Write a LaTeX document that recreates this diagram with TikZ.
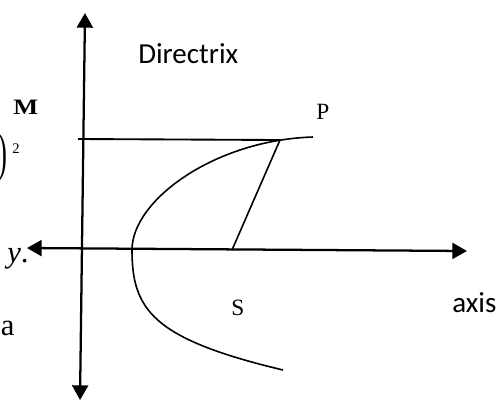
\documentclass[tikz,border=0pt]{standalone}
\usepackage{fontspec}
\usepackage{graphicx}
\setmainfont{Liberation Serif}
\newfontfamily\calib{Carlito}
\usetikzlibrary{arrows.meta}
\begin{document}
\begin{tikzpicture}[x=0.75pt,y=-0.75pt,
  axisline/.style={line width=1.7pt},
  segline/.style={line width=1.4pt},
  curveline/.style={line width=1.2pt},
  >={Triangle[length=11pt,width=12pt]},
  serif/.style={inner sep=0pt, anchor=base west, font=\fontsize{17.5}{17.5}\selectfont},
  bigserif/.style={inner sep=0pt, anchor=base west, font=\fontsize{23}{23}\selectfont},
  sanslab/.style={inner sep=0pt, anchor=base west, font=\calib\fontsize{21.75}{22}\selectfont}]
\useasboundingbox (0,0) rectangle (500,401);
% key points
\coordinate (dtop) at (85,13);
\coordinate (dbot) at (80,400);
\coordinate (yl) at (27,248);
\coordinate (ax) at (467,251);
\coordinate (Mfoot) at (78,139);
\coordinate (P) at (280,140);
\coordinate (S) at (232,250);
\coordinate (V) at (132,250);
\coordinate (top) at (313,137);
\coordinate (bot) at (283,370);
% directrix and axis
\draw[axisline,<->] (dbot) -- (dtop);
\draw[axisline,<->] (yl) -- (ax);
% PM and PS
\draw[segline] (Mfoot) -- (P);
\draw[curveline] (P) -- (S);
% parabola
\draw[curveline] (top) .. controls (215,140) and (132,200) .. (V)
  .. controls (132,310) and (153,339) .. (bot);
% labels
\node[sanslab] (dirlab) at (138,63) {Directrix};
\node[sanslab] (axislab) at (452,312) {axis};
\node[inner sep=0pt, anchor=base west, font=\fontsize{16.5}{16.5}\selectfont\bfseries] (Mlab) at (13,114) {\scalebox{1.2}[1]{M}};
\node[serif] (Plab) at (316,119) {P};
\node[serif] (Slab) at (231,315) {S};
\node[bigserif] (ylab) at (7,262) {\textit{y}.};
\node[bigserif] (alab) at (0.5,335) {a};
\node[inner sep=0pt, anchor=east] (paren) at (8,158) {\scalebox{1}[2]{\fontsize{20}{20}\selectfont)}};
\node[inner sep=0pt, anchor=base west, font=\fontsize{11}{11}\selectfont] (sq) at (12,153) {2};
\end{tikzpicture}
\end{document}
